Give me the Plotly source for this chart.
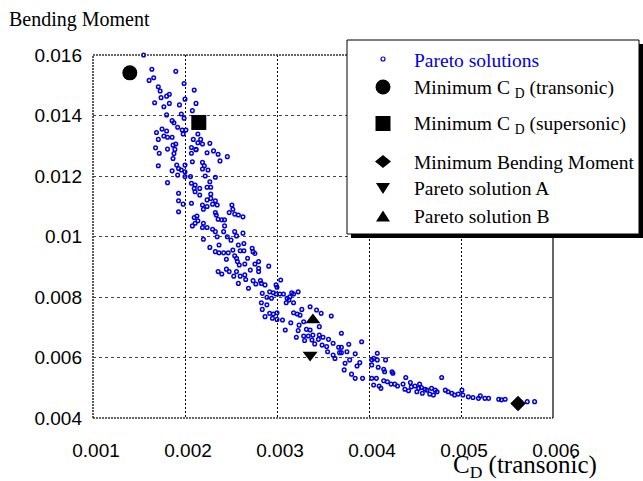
import plotly.graph_objects as go

# ---- data -------------------------------------------------------------
# Pareto front: drag coefficient (transonic) vs. wing-root bending moment
cd_pareto = [
    0.00155, 0.00164, 0.00190, 0.00166, 0.00161, 0.00199, 0.00171, 0.00173, 0.00210, 0.00183,
    0.00180, 0.00174, 0.00200, 0.00167, 0.00183, 0.00194, 0.00177, 0.00212, 0.00208, 0.00180,
    0.00196, 0.00199, 0.00186, 0.00188, 0.00192, 0.00197, 0.00201, 0.00175, 0.00169, 0.00180,
    0.00177, 0.00181, 0.00186, 0.00198, 0.00171, 0.00190, 0.00187, 0.00168, 0.00181, 0.00189,
    0.00172, 0.00188, 0.00207, 0.00212, 0.00214, 0.00217, 0.00209, 0.00214, 0.00219, 0.00212,
    0.00207, 0.00187,
    0.00227, 0.00231, 0.00224, 0.00236, 0.00246, 0.00238, 0.00219, 0.00208, 0.00200, 0.00221,
    0.00196, 0.00200, 0.00219, 0.00225, 0.00206, 0.00200, 0.00222, 0.00233, 0.00227, 0.00207,
    0.00211, 0.00210, 0.00216, 0.00224, 0.00228, 0.00207, 0.00171, 0.00191, 0.00186, 0.00193,
    0.00192, 0.00181, 0.00193, 0.00193, 0.00193, 0.00198,
    0.00211, 0.00216, 0.00228, 0.00228, 0.00224, 0.00233, 0.00219, 0.00230, 0.00235, 0.00224,
    0.00220, 0.00251, 0.00252, 0.00248, 0.00254, 0.00258, 0.00263, 0.00233, 0.00234, 0.00213,
    0.00210, 0.00236, 0.00240, 0.00243, 0.00214, 0.00211, 0.00220, 0.00208, 0.00243, 0.00219,
    0.00224, 0.00230, 0.00233, 0.00242, 0.00254, 0.00263, 0.00235, 0.00246, 0.00256, 0.00250,
    0.00220, 0.00264, 0.00258, 0.00237, 0.00227, 0.00260, 0.00264, 0.00233, 0.00237, 0.00242,
    0.00247, 0.00252, 0.00273, 0.00274, 0.00276, 0.00254, 0.00256, 0.00245, 0.00268, 0.00257,
    0.00259, 0.00265, 0.00280, 0.00276, 0.00271, 0.00280, 0.00280, 0.00236, 0.00240, 0.00245,
    0.00248, 0.00256, 0.00253, 0.00260, 0.00265, 0.00266, 0.00274, 0.00282, 0.00277, 0.00269,
    0.00258,
    0.00291, 0.00304, 0.00283, 0.00287, 0.00299, 0.00300, 0.00284, 0.00292, 0.00296, 0.00299,
    0.00303, 0.00307, 0.00289, 0.00294, 0.00311, 0.00314, 0.00316, 0.00318, 0.00323, 0.00313,
    0.00318, 0.00310, 0.00283, 0.00289, 0.00284, 0.00327, 0.00336, 0.00343, 0.00348, 0.00318,
    0.00322, 0.00325, 0.00292, 0.00296, 0.00300, 0.00287, 0.00295, 0.00300, 0.00306, 0.00359,
    0.00315, 0.00324, 0.00329, 0.00309, 0.00323, 0.00332, 0.00336, 0.00346, 0.00329, 0.00334,
    0.00339, 0.00346, 0.00321, 0.00330, 0.00338, 0.00345, 0.00350, 0.00356, 0.00361, 0.00341,
    0.00349, 0.00354, 0.00367, 0.00355, 0.00361, 0.00368, 0.00363,
    0.00370, 0.00392, 0.00378, 0.00370, 0.00370, 0.00376, 0.00385, 0.00390, 0.00379, 0.00374,
    0.00387, 0.00403, 0.00405, 0.00409, 0.00409, 0.00418, 0.00410, 0.00416, 0.00403, 0.00425,
    0.00426, 0.00417, 0.00373, 0.00381, 0.00385, 0.00393, 0.00403, 0.00408, 0.00416, 0.00420,
    0.00424, 0.00428, 0.00431, 0.00405, 0.00411, 0.00413, 0.00440, 0.00437, 0.00445, 0.00446,
    0.00450, 0.00454, 0.00457, 0.00461, 0.00439, 0.00443, 0.00452, 0.00458, 0.00466, 0.00470,
    0.00474, 0.00472, 0.00463, 0.00468, 0.00455,
    0.00479, 0.00483, 0.00486, 0.00490, 0.00493, 0.00497, 0.00501, 0.00502, 0.00508, 0.00513,
    0.00519, 0.00521, 0.00526, 0.00530, 0.00541, 0.00544, 0.00548, 0.00572, 0.00580,
]
bm_pareto = [
    0.01600, 0.01553, 0.01546, 0.01525, 0.01516, 0.01506, 0.01495, 0.01481, 0.01484, 0.01470,
    0.01464, 0.01459, 0.01454, 0.01442, 0.01440, 0.01435, 0.01429, 0.01440, 0.01416, 0.01402,
    0.01405, 0.01391, 0.01383, 0.01376, 0.01361, 0.01352, 0.01352, 0.01355, 0.01344, 0.01349,
    0.01332, 0.01328, 0.01328, 0.01339, 0.01321, 0.01306, 0.01302, 0.01293, 0.01289, 0.01288,
    0.01275, 0.01274, 0.01294, 0.01288, 0.01339, 0.01321, 0.01321, 0.01310, 0.01306, 0.01287,
    0.01275, 0.01258,
    0.01308, 0.01283, 0.01277, 0.01272, 0.01264, 0.01250, 0.01245, 0.01247, 0.01236, 0.01234,
    0.01220, 0.01214, 0.01223, 0.01220, 0.01198, 0.01198, 0.01200, 0.01196, 0.01181, 0.01176,
    0.01170, 0.01159, 0.01159, 0.01163, 0.01163, 0.01110, 0.01234, 0.01236, 0.01217, 0.01225,
    0.01203, 0.01178, 0.01143, 0.01118, 0.01082, 0.01107,
    0.01148, 0.01137, 0.01140, 0.01126, 0.01121, 0.01118, 0.01104, 0.01107, 0.01104, 0.01099,
    0.01090, 0.01104, 0.01090, 0.01079, 0.01074, 0.01071, 0.01065, 0.01079, 0.01071, 0.01068,
    0.01063, 0.01057, 0.01055, 0.01055, 0.01052, 0.01044, 0.01044, 0.01035, 0.01035, 0.01030,
    0.01030, 0.01024, 0.01016, 0.01016, 0.01016, 0.01011, 0.00999, 0.00999, 0.01002, 0.00988,
    0.00991, 0.00977, 0.00972, 0.00972, 0.00964, 0.00953, 0.00953, 0.00950, 0.00946, 0.00946,
    0.00946, 0.00955, 0.00961, 0.00950, 0.00944, 0.00936, 0.00928, 0.00925, 0.00928, 0.00917,
    0.00906, 0.00909, 0.00917, 0.00909, 0.00889, 0.00895, 0.00884, 0.00884, 0.00876, 0.00892,
    0.00884, 0.00884, 0.00869, 0.00869, 0.00873, 0.00858, 0.00854, 0.00854, 0.00843, 0.00829,
    0.00845,
    0.00902, 0.00856, 0.00845, 0.00840, 0.00840, 0.00832, 0.00812, 0.00817, 0.00814, 0.00810,
    0.00810, 0.00810, 0.00799, 0.00796, 0.00796, 0.00801, 0.00814, 0.00810, 0.00817, 0.00790,
    0.00781, 0.00781, 0.00781, 0.00774, 0.00759, 0.00759, 0.00768, 0.00757, 0.00746, 0.00748,
    0.00744, 0.00740, 0.00746, 0.00744, 0.00748, 0.00735, 0.00730, 0.00726, 0.00724, 0.00737,
    0.00715, 0.00707, 0.00718, 0.00691, 0.00689, 0.00693, 0.00691, 0.00702, 0.00671, 0.00671,
    0.00674, 0.00674, 0.00667, 0.00656, 0.00658, 0.00660, 0.00667, 0.00660, 0.00647, 0.00645,
    0.00641, 0.00636, 0.00634, 0.00619, 0.00608, 0.00616, 0.00597,
    0.00680, 0.00652, 0.00644, 0.00634, 0.00616, 0.00619, 0.00612, 0.00583, 0.00592, 0.00581,
    0.00572, 0.00592, 0.00597, 0.00614, 0.00592, 0.00592, 0.00568, 0.00561, 0.00575, 0.00553,
    0.00548, 0.00553, 0.00559, 0.00545, 0.00531, 0.00531, 0.00531, 0.00531, 0.00523, 0.00520,
    0.00512, 0.00512, 0.00506, 0.00509, 0.00506, 0.00498, 0.00534, 0.00512, 0.00517, 0.00503,
    0.00506, 0.00498, 0.00501, 0.00495, 0.00495, 0.00490, 0.00487, 0.00482, 0.00479, 0.00476,
    0.00487, 0.00492, 0.00492, 0.00498, 0.00512,
    0.00534, 0.00492, 0.00487, 0.00482, 0.00476, 0.00479, 0.00492, 0.00476, 0.00470, 0.00468,
    0.00465, 0.00473, 0.00465, 0.00465, 0.00462, 0.00460, 0.00462, 0.00454, 0.00454,
]

# highlighted designs
special_names = ["Minimum C<sub>D</sub> (transonic)", "Minimum C<sub>D</sub> (supersonic)",
                 "Minimum Bending Moment", "Pareto solution A", "Pareto solution B"]
special_cd = [0.00140, 0.00215, 0.00562, 0.00336, 0.00339]
special_bm = [0.01541, 0.01377, 0.00448, 0.00608, 0.00724]
special_symbols = ["circle", "square", "diamond", "triangle-down", "triangle-up"]
special_sizes = [15, 15, 12, 13, 13]

x_ticks = [0.001, 0.002, 0.003, 0.004, 0.005, 0.006]
x_ticklabels = ["0.001", "0.002", "0.003", "0.004", "0.005", "0.006"]
y_ticks = [0.004, 0.006, 0.008, 0.010, 0.012, 0.014, 0.016]
y_ticklabels = ["0.004", "0.006", "0.008", "0.01", "0.012", "0.014", "0.016"]

legend_labels = ["Pareto solutions", "Minimum C <sub>D</sub> (transonic)",
                 "Minimum C <sub>D</sub> (supersonic)", "Minimum Bending Moment",
                 "Pareto solution A", "Pareto solution B"]

# ---- layout geometry (pixels) -----------------------------------------
W, H = 643, 481
ML, MR, MT, MB = 93, 90, 55, 63
PW, PH = W - ML - MR, H - MT - MB
BLUE = "rgb(0,0,225)"
SERIF = "Liberation Serif, Times New Roman, serif"
SANS = "Liberation Sans, Arial, sans-serif"


def fx(px):
    return (px - ML) / PW


def fy(py):
    return (H - MB - py) / PH


fig = go.Figure()

fig.add_trace(go.Scatter(
    x=cd_pareto, y=bm_pareto, mode="markers", cliponaxis=False,
    marker=dict(symbol="circle-open", size=3.6, color=BLUE, line=dict(width=1.5, color=BLUE)),
    showlegend=False, hoverinfo="skip",
))
for name, cx, cy, sym, sz in zip(special_names, special_cd, special_bm, special_symbols, special_sizes):
    fig.add_trace(go.Scatter(
        x=[cx], y=[cy], mode="markers", name=name, cliponaxis=False,
        marker=dict(symbol=sym, size=sz, color="black", line=dict(width=0)),
        showlegend=False,
    ))

# ---- plot frame --------------------------------------------------------
shapes = []
frame = dict(type="line", xref="paper", yref="paper", layer="above")
shapes.append(dict(frame, x0=0, x1=1, y0=1, y1=1, line=dict(color="#333", width=1.6, dash="2px,1px")))
shapes.append(dict(frame, x0=0, x1=1, y0=0, y1=0, line=dict(color="#333", width=1.6, dash="2px,1px")))
shapes.append(dict(frame, x0=0, x1=0, y0=0, y1=1, line=dict(color="#333", width=1.6, dash="2px,1px")))
shapes.append(dict(frame, x0=1, x1=1, y0=0, y1=1, line=dict(color="black", width=1.2)))

# ---- legend box with drop shadow --------------------------------------
box = dict(xref="paper", yref="paper", layer="above")
shapes.append(dict(box, type="rect", x0=fx(351), x1=fx(643), y0=fy(44), y1=fy(238),
                   fillcolor="black", line=dict(width=0)))
shapes.append(dict(box, type="rect", x0=fx(347), x1=fx(639), y0=fy(40), y1=fy(234),
                   fillcolor="white", line=dict(color="black", width=1)))

sx = 383
row_y = [59, 87, 123.5, 161.5, 188.5, 216]
text_y = [60, 89, 125, 162, 189, 216]


def path(points):
    return "M " + " L ".join(f"{fx(a):.5f},{fy(b):.5f}" for a, b in points) + " Z"


# symbols
shapes.append(dict(box, type="circle", x0=fx(sx - 2), x1=fx(sx + 2), y0=fy(row_y[0] - 2), y1=fy(row_y[0] + 2),
                   line=dict(color=BLUE, width=1.2), fillcolor="white"))
shapes.append(dict(box, type="circle", x0=fx(sx - 7.5), x1=fx(sx + 7.5), y0=fy(row_y[1] - 7.5),
                   y1=fy(row_y[1] + 7.5), fillcolor="black", line=dict(width=0)))
shapes.append(dict(box, type="rect", x0=fx(sx - 7.5), x1=fx(sx + 7.5), y0=fy(row_y[2] - 7.5),
                   y1=fy(row_y[2] + 7.5), fillcolor="black", line=dict(width=0)))
shapes.append(dict(box, type="path", fillcolor="black", line=dict(width=0),
                   path=path([(sx - 8, row_y[3]), (sx, row_y[3] - 6.5), (sx + 8, row_y[3]), (sx, row_y[3] + 6.5)])))
shapes.append(dict(box, type="path", fillcolor="black", line=dict(width=0),
                   path=path([(sx - 7, row_y[4] - 5.5), (sx + 7, row_y[4] - 5.5), (sx, row_y[4] + 5.5)])))
shapes.append(dict(box, type="path", fillcolor="black", line=dict(width=0),
                   path=path([(sx - 7, row_y[5] + 5.5), (sx + 7, row_y[5] + 5.5), (sx, row_y[5] - 5.5)])))

annotations = []
for i, (lab, ty) in enumerate(zip(legend_labels, text_y)):
    annotations.append(dict(
        xref="paper", yref="paper", x=fx(412), y=fy(ty), xanchor="left", yanchor="middle",
        text=lab, showarrow=False,
        font=dict(family=SERIF, size=19.5, color=BLUE if i == 0 else "black"),
    ))

# axis titles
annotations.append(dict(xref="paper", yref="paper", x=fx(7), y=fy(19), xanchor="left", yanchor="middle",
                        text="Bending Moment", showarrow=False, font=dict(family=SERIF, size=20, color="black")))
annotations.append(dict(xref="paper", yref="paper", x=fx(451), y=fy(466), xanchor="left", yanchor="middle",
                        text="C<sub>D</sub> (transonic)", showarrow=False,
                        font=dict(family=SERIF, size=25, color="black")))

fig.update_layout(
    width=W, height=H,
    margin=dict(l=ML, r=MR, t=MT, b=MB, pad=0),
    paper_bgcolor="white", plot_bgcolor="white",
    showlegend=False,
    shapes=shapes, annotations=annotations,
    xaxis=dict(range=[0.001, 0.006], tickvals=x_ticks, ticktext=x_ticklabels,
               showgrid=True, gridcolor="black", gridwidth=1, griddash="2px,2px",
               zeroline=False, showline=False, ticks="", ticklabelstandoff=19, ticklabelshift=3,
               tickfont=dict(family=SANS, size=19, color="black")),
    yaxis=dict(range=[0.004, 0.016], tickvals=y_ticks, ticktext=y_ticklabels,
               showgrid=True, gridcolor="#444", gridwidth=1.3, griddash="3px,3px",
               zeroline=False, showline=False, ticks="", ticklabelstandoff=10,
               tickfont=dict(family=SANS, size=19, color="black")),
)

fig.write_html("out.html")
